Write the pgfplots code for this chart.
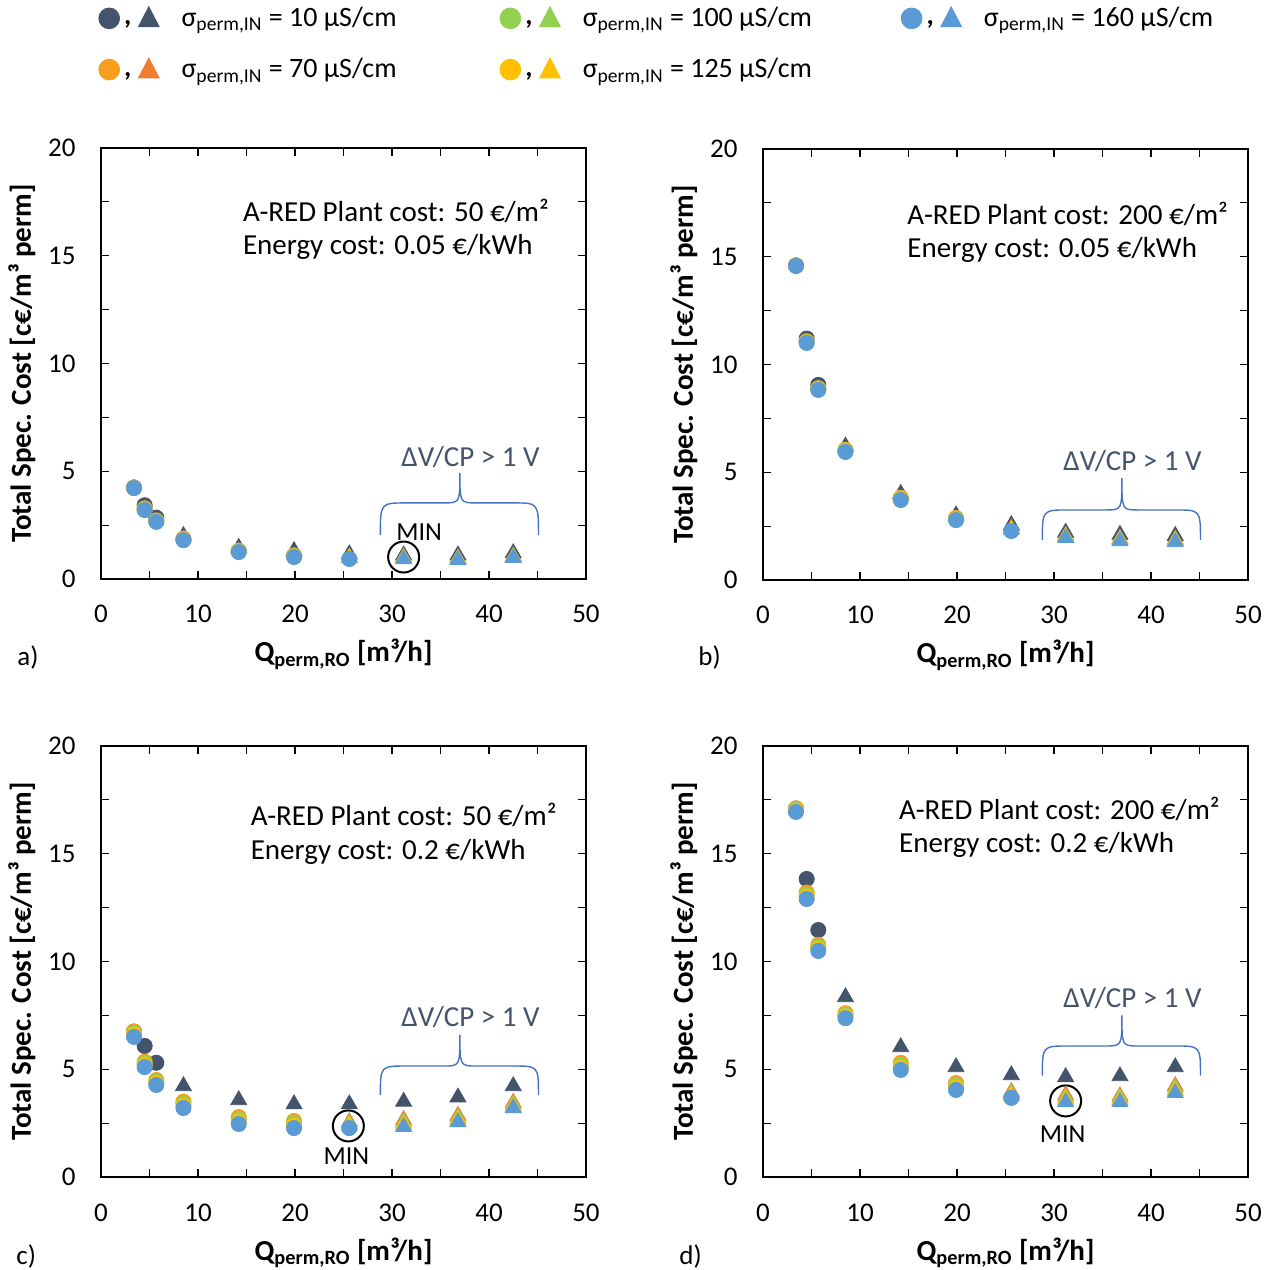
\documentclass[border=0pt]{standalone}
\usepackage{fontspec}
\setmainfont{Carlito}
\usepackage{pgfplots}
\usepackage{pgfplotstable}
\pgfplotsset{compat=1.18}

\definecolor{cD}{HTML}{44546A}
\definecolor{cOc}{HTML}{F99D1C}
\definecolor{cOt}{HTML}{ED7D31}
\definecolor{cG}{HTML}{92D050}
\definecolor{cY}{HTML}{FFC000}
\definecolor{cB}{HTML}{5B9BD5}
\definecolor{cBrace}{HTML}{4472C4}

% x = Q_perm,RO; D,O,G,Y,B = 10,70,100,125,160 uS/cm
\pgfplotstableread{
x    D     O     G     Y     B
3.4  4.25  4.24  4.23  4.23  4.22
4.5  3.42  3.28  3.25  3.22  3.20
5.7  2.85  2.72  2.69  2.67  2.65
8.5  2.00  1.88  1.85  1.83  1.80
14.2 1.45  1.32  1.30  1.27  1.25
19.9 1.30  1.10  1.07  1.05  1.02
25.6 1.15  1.00  0.98  0.96  0.93
31.2 1.10  1.00  0.97  0.95  0.92
36.8 1.10  0.96  0.93  0.90  0.88
42.5 1.20  1.05  1.02  1.00  0.98
}\tabA
\pgfplotstableread{
x    D     O     G     Y     B
3.4  14.60 14.60 14.59 14.58 14.57
4.5  11.20 11.08 11.05 11.03 11.00
5.7  9.05  8.90  8.87  8.85  8.82
8.5  6.20  6.05  6.01  5.98  5.94
14.2 4.00  3.82  3.78  3.75  3.71
19.9 3.00  2.88  2.84  2.81  2.78
25.6 2.55  2.38  2.34  2.31  2.27
31.2 2.20  2.05  2.02  1.99  1.95
36.8 2.10  1.92  1.88  1.84  1.80
42.5 2.05  1.88  1.84  1.80  1.76
}\tabB
\pgfplotstableread{
x    D     O     G     Y     B
3.4  6.75  6.75  6.68  6.60  6.50
4.5  6.08  5.35  5.27  5.19  5.10
5.7  5.30  4.50  4.42  4.35  4.27
8.5  4.22  3.50  3.40  3.30  3.20
14.2 3.57  2.78  2.67  2.57  2.46
19.9 3.38  2.60  2.49  2.38  2.27
25.6 3.38  2.55  2.45  2.37  2.27
31.2 3.50  2.65  2.54  2.44  2.33
36.8 3.70  2.85  2.75  2.65  2.55
42.5 4.22  3.45  3.35  3.27  3.20
}\tabC
\pgfplotstableread{
x    D     O     G     Y     B
3.4  17.10 17.10 17.05 17.00 16.94
4.5  13.83 13.20 13.10 13.00 12.90
5.7  11.46 10.77 10.68 10.58 10.49
8.5  8.35  7.60  7.52  7.45  7.37
14.2 6.03  5.30  5.19  5.08  4.97
19.9 5.10  4.36  4.25  4.15  4.04
25.6 4.73  3.95  3.86  3.77  3.67
31.2 4.64  3.80  3.69  3.59  3.48
36.8 4.68  3.75  3.66  3.57  3.48
42.5 5.10  4.22  4.11  4.00  3.90
}\tabD

\newcommand{\fs}[1]{\fontsize{#1}{#1}\selectfont}

\pgfplotsset{
  circ/.style={only marks, mark=*, mark size=3.8pt, color=#1, mark options={draw=none, fill=#1}},
  tri/.style={only marks, mark=triangle*, mark size=4.6pt, color=#1, mark options={draw=none, fill=#1}},
  panel/.style={
    scale only axis, width=242.5pt, height=215.5pt,
    xmin=0, xmax=50, ymin=0, ymax=20,
    xtick={0,10,...,50}, ytick={0,5,...,20},
    minor x tick num=1, minor y tick num=1,
    tick align=inside, major tick length=4pt, minor tick length=4pt,
    tick style={black, line width=0.6pt},
    axis line style={black, line width=0.7pt},
    clip=false,
    /pgf/number format/assume math mode=true,
    tick label style={font=\fs{13.5}},
    xticklabel style={anchor=base, inner sep=0pt, yshift=-22pt},
    yticklabel style={anchor=east, inner sep=0pt, xshift=-12.5pt},
    xlabel={Q\textsubscript{perm,RO} [m³/h]},
    ylabel={Total Spec. Cost [c€/m³ perm]},
    xlabel style={at={(axis description cs:0.5,0)}, anchor=base, yshift=-41.5pt, font=\bfseries\fs{14.5}},
    ylabel style={at={(axis description cs:-0.163,0.5)}, anchor=center, rotate=0, font=\bfseries\fs{14.5}},
  },
}

\newcommand{\plotset}[1]{%
  \addplot[circ=cD, restrict x to domain=0:6] table[x=x,y=D]{#1};
  \addplot[tri=cD, restrict x to domain=7:50] table[x=x,y=D]{#1};
  \addplot[circ=cOc, restrict x to domain=0:21] table[x=x,y=O]{#1};
  \addplot[tri=cOt, restrict x to domain=24:50] table[x=x,y=O]{#1};
  \addplot[circ=cG, restrict x to domain=0:21] table[x=x,y=G]{#1};
  \addplot[tri=cG, restrict x to domain=24:50] table[x=x,y=G]{#1};
  \addplot[circ=cY, restrict x to domain=0:21] table[x=x,y=Y]{#1};
  \addplot[tri=cY, restrict x to domain=24:50] table[x=x,y=Y]{#1};
  \addplot[circ=cB, restrict x to domain=0:27] table[x=x,y=B]{#1};
  \addplot[tri=cB, restrict x to domain=30:50] table[x=x,y=B]{#1};
  \draw[black, line width=1.1pt] (rel axis cs:0,1) -- (rel axis cs:0,0) -- (rel axis cs:1,0);
}

% #1 end y, #2 horizontal y, #3 tip y, #4 text y
\newcommand{\dvbrace}[4]{%
  \draw[cBrace, line width=0.7pt] (axis cs:28.8,#1) .. controls (axis cs:28.8,#2) .. (axis cs:31.5,#2)
    -- (axis cs:35.3,#2) .. controls (axis cs:37,#2) .. (axis cs:37,#3)
    .. controls (axis cs:37,#2) .. (axis cs:38.7,#2) -- (axis cs:42.5,#2)
    .. controls (axis cs:45.1,#2) .. (axis cs:45.1,#1);
  \node[cD, anchor=base, inner sep=0pt, font=\fs{14.5}] at (axis cs:38.1,#4) {ΔV/CP > 1 V};
}

\newcommand{\costs}[4]{%
  \node[anchor=base west, inner sep=0pt, font=\fs{14.5}] at (axis cs:#1,#2) {A-RED Plant cost: #3 €/m²};
  \node[anchor=base west, inner sep=0pt, font=\fs{14.5}] at (axis cs:#1,#2-1.55) {Energy cost: #4 €/kWh};
}

\newcommand{\minmark}[4]{%
  \node[draw=black, line width=1pt, circle, minimum size=15.5pt, inner sep=0pt] at (axis cs:#1,#2) {};
  \node[anchor=base, inner sep=0pt, font=\fs{13}] at (axis cs:#3,#4) {MIN};
}

\newcommand{\legimg}[3]{%
  \addlegendimage{legend image code/.code={
    \fill[#1] (5.2pt,0pt) circle (5.2pt);
    \node[anchor=base, inner sep=0pt, font=\bfseries\fs{14}] at (14.5pt,-3.3pt) {,};
    \fill[#2] (19.8pt,-4.2pt) -- (30.2pt,-4.2pt) -- (25pt,5.8pt) -- cycle;
  }}
  \addlegendentry{\makebox[150pt][l]{σ\textsubscript{perm,IN} = #3 µS/cm}}
}

\begin{document}
\begin{tikzpicture}
\path[use as bounding box] (0,0) rectangle (636.5pt,634.5pt);

% a)
\begin{axis}[panel, at={(50.5pt,345pt)}, anchor=south west,
  legend columns=3, legend cell align=left,
  legend style={at={(rel axis cs:-0.0062,1.3295)}, anchor=north west, draw=none, fill=none,
    inner sep=0pt, font=\fs{14}, row sep=14pt, nodes={inner sep=0pt},
    /tikz/every odd column/.append style={column sep=11pt},
    /tikz/every even column/.append style={column sep=9pt}}]
\legimg{cD}{cD}{10}
\legimg{cG}{cG}{100}
\legimg{cB}{cB}{160}
\legimg{cOc}{cOt}{70}
\legimg{cY}{cY}{125}
\plotset{\tabA}
\costs{14.6}{16.6}{50}{0.05}
\dvbrace{2.04}{3.53}{4.92}{5.24}
\minmark{31.2}{1.02}{32.8}{1.8}
\end{axis}

% b)
\begin{axis}[panel, at={(381.5pt,344.5pt)}, anchor=south west]
\plotset{\tabB}
\costs{14.85}{16.5}{200}{0.05}
\dvbrace{1.86}{3.25}{4.73}{5.1}
\end{axis}

% c)
\begin{axis}[panel, at={(50.5pt,46pt)}, anchor=south west]
\plotset{\tabC}
\costs{15.4}{16.3}{50}{0.2}
\dvbrace{3.8}{5.15}{6.6}{7.0}
\minmark{25.5}{2.37}{25.3}{0.56}
\end{axis}

% d)
\begin{axis}[panel, at={(381.5pt,46pt)}, anchor=south west]
\plotset{\tabD}
\costs{14.0}{16.6}{200}{0.2}
\dvbrace{4.7}{6.08}{7.5}{7.85}
\minmark{31.2}{3.53}{30.9}{1.58}
\end{axis}

\node[anchor=base west, inner sep=0pt, font=\fs{13.5}] at (8.5pt,301.5pt) {a)};
\node[anchor=base west, inner sep=0pt, font=\fs{13.5}] at (349pt,301.5pt) {b)};
\node[anchor=base west, inner sep=0pt, font=\fs{13.5}] at (8pt,2.5pt) {c)};
\node[anchor=base west, inner sep=0pt, font=\fs{13.5}] at (339.5pt,2.5pt) {d)};
\end{tikzpicture}
\end{document}
